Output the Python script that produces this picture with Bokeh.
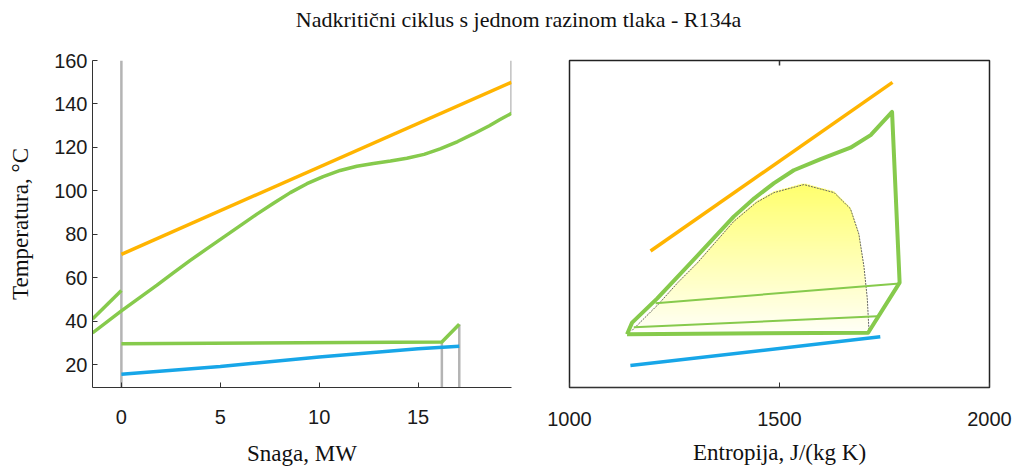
import numpy as np
from bokeh.plotting import figure
from bokeh.layouts import row, column
from bokeh.models import Div, FixedTicker, Range1d
from bokeh.embed import file_html
from bokeh.resources import INLINE

TITLE = "Nadkritični ciklus s jednom razinom tlaka - R134a"
XLABEL_L = "Snaga, MW"
XLABEL_R = "Entropija, J/(kg K)"
YLABEL = "Temperatura, °C"

# ---------------- left panel (T-Q diagram) ----------------
left_xticks = [0, 5, 10, 15]
left_yticks = [20, 40, 60, 80, 100, 120, 140, 160]
left_xrange = [-1.46, 19.72]
left_yrange = [9.5, 160]

hot_power = [0.0, 19.72]
hot_T = [70.8, 150.0]

wf_power = [-1.46, 0.0, 1.8, 2.64, 3.48, 4.33, 5.17, 6.01, 6.85, 7.69, 8.54, 9.38, 10.2,
            11.06, 11.9, 12.74, 13.6, 14.43, 15.3, 16.11, 17.0, 17.79, 18.6, 19.14, 19.72]
wf_T = [34.6, 44.8, 56.6, 62.4, 68.0, 73.4, 78.7, 84.0, 89.3, 94.3, 99.2, 103.3, 106.6,
        109.4, 111.3, 112.6, 113.7, 115.0, 116.8, 119.3, 122.7, 126.2, 130.0, 132.8, 135.7]

recup_power = [-1.46, 0.0]
recup_T = [41.0, 54.1]

cond_power = [0.0, 16.2, 17.08]
cond_T = [29.6, 30.4, 38.6]

cool_power = [0.0, 5.0, 10.0, 15.0, 17.08]
cool_T = [15.6, 19.2, 23.5, 27.3, 28.5]

# ---------------- right panel (T-s diagram) ----------------
right_xticks = [1000, 1500, 2000]
right_top_ticks = [1500]
right_xrange = [1000, 2000]
right_yrange = [5.2, 160.4]

hot_s = [1193, 1769]
hot_sT = [70.0, 150.0]

cool_s = [1145, 1740]
cool_sT = [15.6, 29.3]

cycle_s = [1137, 1149, 1209, 1288, 1391, 1440, 1487, 1534, 1598, 1669, 1717, 1768, 1786, 1711, 1137]
cycle_T = [30.5, 36.0, 47.5, 64.2, 86.3, 95.0, 102.2, 108.3, 113.6, 119.0, 125.0, 136.0, 55.0, 31.2, 30.5]

thin1_s = [1786, 1205]
thin1_T = [54.6, 45.2]
thin2_s = [1733, 1153]
thin2_T = [39.0, 33.8]

dome_left_s = [1149, 1213, 1258, 1304, 1391, 1445, 1487, 1558]
dome_left_T = [32.3, 45.0, 55.0, 64.2, 84.0, 93.0, 97.7, 101.5]
dome_right_s = [1558, 1630, 1669, 1689, 1701, 1709, 1713]
dome_right_T = [101.5, 97.7, 90.0, 78.0, 62.7, 47.5, 32.3]

ORANGE = "#ffb400"
GREEN = "#86ca4c"
BLUE = "#17a6e8"
GRAY = "#b4b4b4"
AX = "#333333"

SANS = "Liberation Sans"
SERIF = "Liberation Serif"


def style_axis(ax, size="20px"):
    ax.major_label_text_font = SANS
    ax.major_label_text_font_size = size
    ax.major_label_text_color = "#1a1a1a"
    ax.axis_line_color = AX
    ax.major_tick_line_color = AX
    ax.major_tick_in = 5
    ax.major_tick_out = 0
    ax.minor_tick_line_color = None
    ax.axis_label_text_font = SERIF
    ax.axis_label_text_font_style = "normal"
    ax.axis_label_text_font_size = "23px"
    ax.axis_label_text_color = "#111111"


# ---- left figure
p1 = figure(width=530, height=426, output_backend="svg", toolbar_location=None,
            x_range=Range1d(*left_xrange), y_range=Range1d(*left_yrange),
            min_border_left=92, min_border_right=19, min_border_top=18, min_border_bottom=78)
p1.outline_line_color = None
p1.grid.grid_line_color = None
p1.xaxis.ticker = FixedTicker(ticks=left_xticks)
p1.yaxis.ticker = FixedTicker(ticks=left_yticks)
style_axis(p1.xaxis[0])
style_axis(p1.yaxis[0])
p1.xaxis.major_label_standoff = 22
p1.yaxis.major_label_standoff = 5
p1.xaxis.axis_label = XLABEL_L
p1.yaxis.axis_label = YLABEL
p1.xaxis.axis_label_standoff = 14
p1.yaxis.axis_label_standoff = 18

ymin, ymax = left_yrange
seg_x = [0.0, wf_power[-1], cond_power[1], cond_power[2]]
seg_y0 = [ymin, wf_T[-1], ymin, ymin]
seg_y1 = [ymax, ymax, cond_T[1], cond_T[2]]
p1.segment(x0=seg_x, y0=seg_y0, x1=seg_x, y1=seg_y1, line_color=GRAY, line_width=2.5)

p1.line(hot_power, hot_T, line_color=ORANGE, line_width=3.5)
p1.line(wf_power, wf_T, line_color=GREEN, line_width=3.5, line_join="round")
p1.line(recup_power, recup_T, line_color=GREEN, line_width=3.5)
p1.line(cond_power, cond_T, line_color=GREEN, line_width=3.5, line_join="round")
p1.line(cool_power, cool_T, line_color=BLUE, line_width=3.5)

# ---- right figure
p2 = figure(width=486, height=426, output_backend="svg", toolbar_location=None,
            x_range=Range1d(*right_xrange), y_range=Range1d(*right_yrange),
            min_border_left=39, min_border_right=27, min_border_top=17, min_border_bottom=69)
p2.outline_line_color = "#222222"
p2.outline_line_width = 1.5
p2.grid.grid_line_color = None
p2.yaxis.visible = False
p2.xaxis.ticker = FixedTicker(ticks=right_xticks)
style_axis(p2.xaxis[0])
p2.xaxis.major_label_standoff = 24
p2.xaxis.axis_label = XLABEL_R
p2.xaxis.axis_label_standoff = 11

# saturation dome with vertical gradient fill
Tb = np.arange(min(dome_left_T[0], dome_right_T[-1]), dome_left_T[-1], 0.4)
lefts = np.interp(Tb, dome_left_T, dome_left_s)
rights = np.interp(Tb, dome_right_T[::-1], dome_right_s[::-1])
frac = (Tb - Tb.min()) / (Tb.max() - Tb.min())
cols = ["#%02x%02x%02x" % (255, 255, int(round(244 - 134 * f))) for f in frac]
p2.hbar(y=Tb + 0.4, left=lefts, right=rights, height=0.8, fill_color=cols, line_color=None)
p2.line(dome_left_s + dome_right_s[1:], dome_left_T + dome_right_T[1:],
        line_color="#666666", line_width=1, line_dash="2 1")

p2.line(thin1_s, thin1_T, line_color=GREEN, line_width=2)
p2.line(thin2_s, thin2_T, line_color=GREEN, line_width=2)
p2.line(cycle_s, cycle_T, line_color=GREEN, line_width=4, line_join="round")
p2.line(hot_s, hot_sT, line_color=ORANGE, line_width=3.5)
p2.line(cool_s, cool_sT, line_color=BLUE, line_width=3.5)

# small inward tick on the top edge of the box
ry0, ry1 = right_yrange
p2.segment(x0=right_top_ticks, y0=[ry1] * len(right_top_ticks),
           x1=right_top_ticks, y1=[ry1 - 0.015 * (ry1 - ry0)] * len(right_top_ticks),
           line_color=AX, line_width=1.5)

title = Div(text=('<div style="width:1016px;padding-left:21px;text-align:center;'
                  'font-family:\'Liberation Serif\';font-size:22px;color:#111;'
                  'line-height:26px;padding-top:7px;">' + TITLE + '</div>'),
            width=1016, height=42, margin=0)
p1.margin = 0
p2.margin = 0
layout = column(title, row(p1, p2, margin=0), margin=0)

open("out.html", "w").write(file_html(layout, INLINE))
